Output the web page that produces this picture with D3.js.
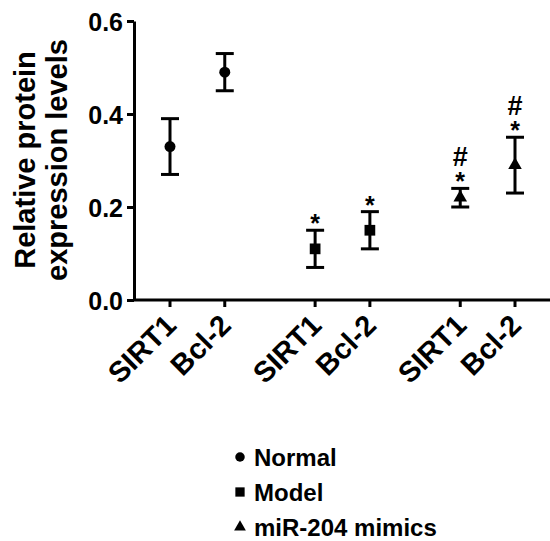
<!DOCTYPE html>
<html>
<head>
<meta charset="utf-8">
<script src="https://cdn.jsdelivr.net/npm/d3@7"></script>
<style>
  body { margin: 0; background: #fff; }
  svg text { font-family: "Liberation Sans", Arial, sans-serif; font-weight: bold; fill: #000; }
</style>
</head>
<body>
<div id="chart"></div>
<script>
// Data
const ticks = ["SIRT1", "Bcl-2", "SIRT1", "Bcl-2", "SIRT1", "Bcl-2"];
const groupOf = ["Normal", "Normal", "Model", "Model", "miR-204 mimics", "miR-204 mimics"];
const means = [0.33, 0.49, 0.11, 0.15, 0.22, 0.29];
const lows = [0.27, 0.45, 0.07, 0.11, 0.20, 0.23];
const highs = [0.39, 0.53, 0.15, 0.19, 0.24, 0.35];
const marks = [[], [], ["*"], ["*"], ["#", "*"], ["#", "*"]];
const legendNames = ["Normal", "Model", "miR-204 mimics"];

const width = 550, height = 541;

const svg = d3.select("#chart").append("svg")
  .attr("width", width)
  .attr("height", height);

// slot index per point, with a gap between the three groups
const slots = [0, 1, 2.65, 3.65, 5.3, 6.3];
const xs = d3.scaleLinear().domain([0, 6.3]).range([170, 515]);

const y = d3.scaleLinear()
  .domain([0, 0.6])
  .range([300, 21]);

const symbolType = {
  "Normal": d3.symbolCircle,
  "Model": d3.symbolSquare,
  "miR-204 mimics": d3.symbolTriangle
};
const symbolSize = {
  "Normal": 95,
  "Model": 115,
  "miR-204 mimics": 80
};

// Y axis
const yAxis = d3.axisLeft(y).tickValues([0, 0.2, 0.4, 0.6]).tickFormat(d3.format(".1f")).tickSize(7).tickSizeOuter(0);
const gy = svg.append("g")
  .attr("transform", "translate(134,0)")
  .call(yAxis);
gy.select(".domain").attr("stroke-width", 3);
gy.selectAll(".tick line").attr("stroke-width", 3);
gy.selectAll(".tick text")
  .attr("font-size", 25)
  .attr("x", -11)
  .attr("dy", "0.36em");

// X axis
svg.append("line")
  .attr("x1", 133).attr("x2", width)
  .attr("y1", y(0)).attr("y2", y(0))
  .attr("stroke", "#000").attr("stroke-width", 3);

const gx = svg.append("g");
gx.selectAll("line.tk")
  .data(slots)
  .enter().append("line")
  .attr("class", "tk")
  .attr("x1", d => xs(d)).attr("x2", d => xs(d))
  .attr("y1", y(0)).attr("y2", y(0) + 7)
  .attr("stroke", "#000").attr("stroke-width", 3);

gx.selectAll("text")
  .data(ticks)
  .enter().append("text")
  .attr("text-anchor", "end")
  .attr("font-size", 29)
  .attr("transform", (d, i) => `translate(${xs(slots[i]) + 8},${y(0) + 27}) rotate(-45)`)
  .text(d => d);

// Axis title
const title = svg.append("text")
  .attr("transform", "translate(35,160) rotate(-90)")
  .attr("text-anchor", "middle")
  .attr("font-size", 29);
title.append("tspan").attr("x", 0).attr("dy", 0).text("Relative protein");
title.append("tspan").attr("x", 0).attr("dy", 32).text("expression levels");

// Error bars
const eb = svg.append("g").attr("stroke", "#000").attr("stroke-width", 3);
means.forEach((m, i) => {
  const cx = xs(slots[i]);
  eb.append("line").attr("x1", cx).attr("x2", cx).attr("y1", y(highs[i])).attr("y2", y(lows[i]));
  eb.append("line").attr("x1", cx - 9).attr("x2", cx + 9).attr("y1", y(highs[i])).attr("y2", y(highs[i]));
  eb.append("line").attr("x1", cx - 9).attr("x2", cx + 9).attr("y1", y(lows[i])).attr("y2", y(lows[i]));
});

// Points
svg.append("g").selectAll("path")
  .data(means)
  .enter().append("path")
  .attr("transform", (d, i) => `translate(${xs(slots[i])},${y(d)})`)
  .attr("d", (d, i) => d3.symbol().type(symbolType[groupOf[i]]).size(symbolSize[groupOf[i]])())
  .attr("fill", "#000");

// Significance marks: one text per point, "#" stacked above "*"
means.forEach((m, i) => {
  if (!marks[i].length) return;
  const cx = xs(slots[i]);
  const t = svg.append("text")
    .attr("text-anchor", "middle");
  const n = marks[i].length;
  marks[i].forEach((s, k) => {
    const fromBottom = n - 1 - k;   // 0 = just above the cap
    t.append("tspan")
      .attr("x", cx)
      .attr("y", s === "*" ? y(highs[i]) + 2 : y(highs[i]) + 2 - 24 * fromBottom)
      .attr("font-size", s === "*" ? 25 : 27)
      .text(s);
  });
});

// Legend
const legend = svg.append("g");
legendNames.forEach((name, i) => {
  const ly = 457 + i * 35;
  legend.append("path")
    .attr("transform", `translate(240,${ly})`)
    .attr("d", d3.symbol().type(symbolType[name]).size(symbolSize[name] * 0.75)())
    .attr("fill", "#000");
  legend.append("text")
    .attr("x", 254)
    .attr("y", ly)
    .attr("dy", "0.36em")
    .attr("font-size", 24)
    .text(name);
});
</script>
</body>
</html>
